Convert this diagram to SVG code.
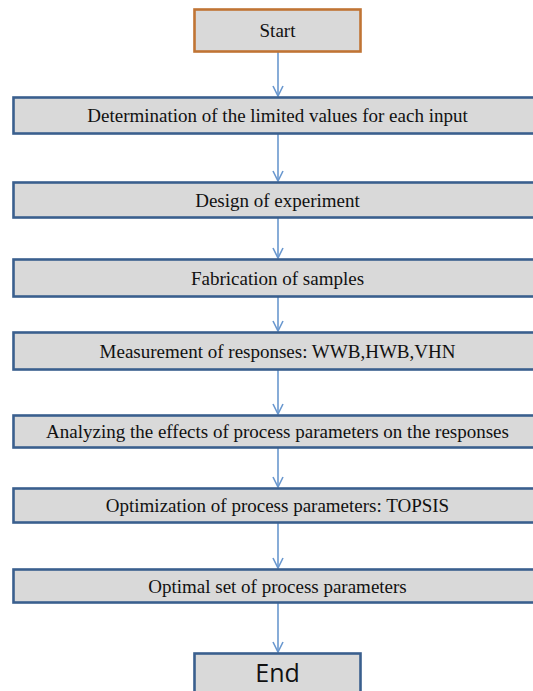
<svg xmlns="http://www.w3.org/2000/svg" width="533" height="691" viewBox="0 0 533 691">
  <defs>
    <style>
      .box { fill: #d9d9d9; stroke: #3a5f8e; stroke-width: 2.6; }
      .term { fill: #d9d9d9; stroke: #c07434; stroke-width: 2.6; }
      .lbl { font-family: "Liberation Serif", "Times New Roman", serif; font-size: 19px; fill: #111; text-anchor: middle; }
      .end { font-family: "Open Sans", "Noto Sans", sans-serif; font-size: 25px; fill: #111; text-anchor: middle; }
      .flow { stroke: #6a98cf; stroke-width: 1.6; fill: none; }
    </style>
    <marker id="arrow" viewBox="0 0 12 12" refX="11" refY="6" markerWidth="12" markerHeight="12" markerUnits="userSpaceOnUse" orient="auto">
      <path d="M1,1 L11,6 L1,11" fill="none" stroke="#6a98cf" stroke-width="1.6"/>
    </marker>
  </defs>

  <g id="connectors">
    <line class="flow" x1="278" y1="52" x2="278" y2="96" marker-end="url(#arrow)"/>
    <line class="flow" x1="278" y1="134" x2="278" y2="181" marker-end="url(#arrow)"/>
    <line class="flow" x1="278" y1="218" x2="278" y2="258" marker-end="url(#arrow)"/>
    <line class="flow" x1="278" y1="297" x2="278" y2="331" marker-end="url(#arrow)"/>
    <line class="flow" x1="278" y1="370" x2="278" y2="414" marker-end="url(#arrow)"/>
    <line class="flow" x1="278" y1="448" x2="278" y2="487" marker-end="url(#arrow)"/>
    <line class="flow" x1="278" y1="523" x2="278" y2="568" marker-end="url(#arrow)"/>
    <line class="flow" x1="278" y1="603" x2="278" y2="652" marker-end="url(#arrow)"/>
  </g>

  <g id="start">
    <rect class="term" x="194.5" y="9.5" width="166" height="42"/>
    <text class="lbl" x="277.5" y="37">Start</text>
  </g>

  <g id="limits">
    <rect class="box" x="13.5" y="97.5" width="530" height="36"/>
    <text class="lbl" x="277.5" y="122">Determination of the limited values for each input</text>
  </g>

  <g id="design">
    <rect class="box" x="13.5" y="182.5" width="530" height="35"/>
    <text class="lbl" x="277.5" y="206.5">Design of experiment</text>
  </g>

  <g id="fabrication">
    <rect class="box" x="13.5" y="259.5" width="530" height="37"/>
    <text class="lbl" x="277.5" y="284.5">Fabrication of samples</text>
  </g>

  <g id="measurement">
    <rect class="box" x="13.5" y="332.5" width="530" height="37"/>
    <text class="lbl" x="277.5" y="357.5">Measurement of responses: WWB,HWB,VHN</text>
  </g>

  <g id="analysis">
    <rect class="box" x="13.5" y="415.5" width="530" height="32"/>
    <text class="lbl" x="277.5" y="438">Analyzing the effects of process parameters on the responses</text>
  </g>

  <g id="optimization">
    <rect class="box" x="13.5" y="488.5" width="530" height="34"/>
    <text class="lbl" x="277.5" y="512">Optimization of process parameters: TOPSIS</text>
  </g>

  <g id="optimal-set">
    <rect class="box" x="13.5" y="569.5" width="530" height="33"/>
    <text class="lbl" x="277.5" y="592.5">Optimal set of process parameters</text>
  </g>

  <g id="end">
    <rect class="box" x="194.5" y="653.5" width="166" height="42"/>
    <text class="end" x="277.5" y="681.5">End</text>
  </g>
</svg>
